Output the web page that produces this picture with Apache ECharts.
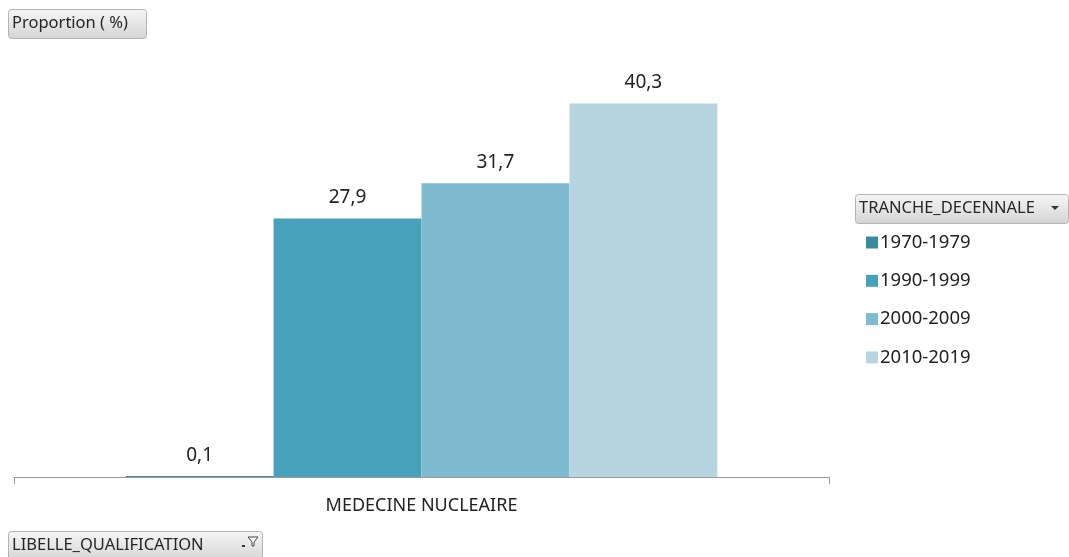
<!DOCTYPE html>
<html>
<head>
<meta charset="utf-8">
<script src="https://cdn.jsdelivr.net/npm/echarts@6/dist/echarts.min.js"></script>
<style>html,body{margin:0;padding:0;background:#fff;}#c{width:1069px;height:557px;}</style>
</head>
<body>
<div id="c"></div>
<script>
const categories = ['MEDECINE NUCLEAIRE'];
const seriesNames = ['1970-1979', '1990-1999', '2000-2009', '2010-2019'];
const v1970 = [0.1];
const v1990 = [27.9];
const v2000 = [31.7];
const v2010 = [40.3];
const colors = ['#3b8a9e', '#47a1bb', '#7fbbd0', '#b7d5e0'];
const FONT = 'Noto Sans';

const values = [v1970, v1990, v2000, v2010];
const chart = echarts.init(document.getElementById('c'));
const btnFill = {type: 'linear', x: 0, y: 0, x2: 0, y2: 1, colorStops: [{offset: 0, color: '#f6f6f6'}, {offset: 1, color: '#d4d4d4'}]};
function button(x, y, w, h, label) {
  return [
    {type: 'rect', left: x, top: y, shape: {width: w, height: h, r: 3}, style: {fill: btnFill, stroke: '#b4b4b4', lineWidth: 1}},
    {type: 'text', left: x + 4, top: y + h / 2 - 9, style: {text: label, font: '16.5px "' + FONT + '"', fill: '#262626'}}
  ];
}
const graphics = [].concat(
  button(8, 9, 138, 29, 'Proportion ( %)'),
  button(855, 194, 213, 29, 'TRANCHE_DECENNALE'),
  button(8, 531, 254, 30, 'LIBELLE_QUALIFICATION'),
  [
    {type: 'polygon', shape: {points: [[1051, 206], [1059, 206], [1055, 210]]}, style: {fill: '#333'}},
    {type: 'polygon', shape: {points: [[248, 537], [258, 537], [254, 542], [254, 546], [252, 546], [252, 542]]}, style: {fill: '#fff', stroke: '#444', lineWidth: 1}},
    {type: 'rect', shape: {x: 242, y: 545, width: 3, height: 2}, style: {fill: '#333'}}
  ]
);

chart.setOption({
  animation: false,
  textStyle: {fontFamily: FONT},
  grid: {left: 14, right: 240, top: 60, bottom: 80},
  legend: {
    orient: 'vertical', left: 861, top: 228, itemWidth: 12, itemHeight: 12, itemGap: 19.3,
    icon: 'rect', data: seriesNames,
    textStyle: {fontSize: 18.5, color: '#222', fontFamily: FONT, padding: [0, 0, 0, -3]}
  },
  xAxis: {
    type: 'category', data: categories,
    axisLine: {lineStyle: {color: '#9a9a9a', width: 1}},
    axisTick: {show: true, length: 7, lineStyle: {color: '#9a9a9a'}},
    axisLabel: {fontSize: 18, color: '#222', margin: 20, fontFamily: FONT}
  },
  yAxis: {type: 'value', min: 0, max: 45, show: false, splitLine: {show: false}},
  series: seriesNames.map((n, i) => ({
    name: n, type: 'bar', data: values[i],
    barGap: '0%', barCategoryGap: '27.4%',
    itemStyle: {color: colors[i]},
    label: {show: true, position: 'top', distance: 11, fontSize: 19, color: '#222', fontFamily: FONT,
      formatter: p => p.value.toFixed(1).replace('.', ',')}
  })),
  graphic: graphics
});
</script>
</body>
</html>
